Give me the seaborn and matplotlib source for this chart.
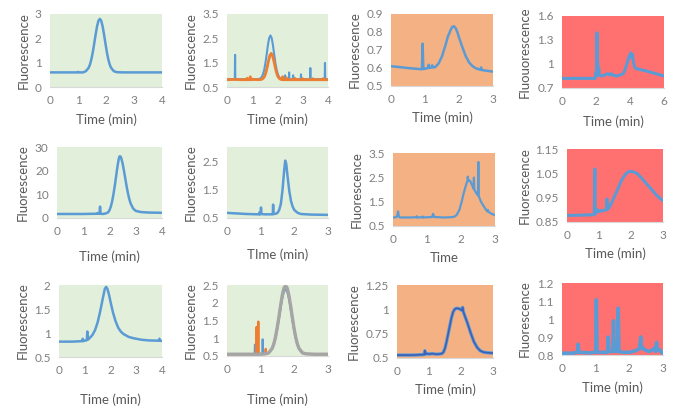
import matplotlib
matplotlib.use("Agg")
import matplotlib.pyplot as plt
import seaborn as sns
from matplotlib.ticker import FuncFormatter

sns.set_theme(style="white")
plt.rcParams['font.family'] = ['Lato', 'DejaVu Sans']

# ---------------- data ----------------
# Panel 1
p1_t = [0, 0.5, 0.97, 1.0, 1.03, 1.18, 1.28, 1.38, 1.43, 1.48, 1.53, 1.58, 1.63, 1.68, 1.73, 1.78,
        1.83, 1.88, 1.93, 1.98, 2.03, 2.08, 2.13, 2.18, 2.28, 2.38, 2.6, 3.0, 3.5, 4.0]
p1_y = [0.6, 0.6, 0.6, 0.62, 0.6, 0.6, 0.65, 0.79, 0.93, 1.15, 1.44, 1.79, 2.16, 2.49, 2.72, 2.8,
        2.72, 2.49, 2.16, 1.79, 1.44, 1.15, 0.93, 0.79, 0.65, 0.61, 0.6, 0.6, 0.6, 0.6]

# Panel 2 (blue and orange)
p2b_t = [0, 0.2, 0.31, 0.32, 0.33, 0.6, 1.0, 1.22, 1.32, 1.37, 1.42, 1.47, 1.52, 1.57, 1.62, 1.67,
         1.72, 1.77, 1.82, 1.87, 1.92, 1.97, 2.02, 2.07, 2.12, 2.22, 2.29, 2.3, 2.31, 2.45, 2.46, 2.47,
         2.61, 2.62, 2.63, 2.92, 2.93, 2.94, 3.29, 3.3, 3.31, 3.6, 3.87, 3.88, 3.89, 4.0]
p2b_y = [0.82, 0.82, 0.82, 1.82, 0.82, 0.82, 0.82, 0.82, 0.85, 0.9, 1.01, 1.19, 1.47, 1.83, 2.22,
         2.51, 2.62, 2.51, 2.22, 1.83, 1.47, 1.19, 1.01, 0.9, 0.85, 0.82, 0.82, 0.98, 0.82, 0.82, 1.1,
         0.82, 0.82, 0.98, 0.82, 0.82, 1.02, 0.82, 0.82, 1.28, 0.82, 0.82, 0.82, 1.49, 0.82, 0.82]
p2o_t = [0, 0.3, 0.6, 0.79, 0.8, 0.81, 0.91, 0.92, 0.93, 1.1, 1.25, 1.35, 1.4, 1.45, 1.5, 1.55,
         1.6, 1.65, 1.7, 1.75, 1.8, 1.85, 1.9, 1.95, 2.0, 2.05, 2.1, 2.15, 2.19, 2.2, 2.21, 2.34, 2.35,
         2.36, 2.69, 2.7, 2.71, 2.99, 3.0, 3.01, 3.39, 3.4, 3.41, 3.79, 3.8, 3.81, 4.0]
p2o_y = [0.8, 0.81, 0.8, 0.8, 0.86, 0.8, 0.8, 0.92, 0.8, 0.81, 0.8, 0.81, 0.83, 0.876, 0.97, 1.13,
         1.355, 1.6, 1.8, 1.88, 1.8, 1.6, 1.355, 1.13, 0.97, 0.876, 0.83, 0.81, 0.8, 0.92, 0.8, 0.8,
         0.88, 0.8, 0.8, 0.85, 0.8, 0.8, 0.84, 0.8, 0.8, 0.84, 0.8, 0.8, 0.84, 0.8, 0.8]

# Panel 3
p3_t = [0, 0.3, 0.6, 0.91, 0.93, 0.95, 1.0, 1.09, 1.11, 1.13, 1.19, 1.21, 1.23, 1.3, 1.4, 1.5,
        1.6, 1.68, 1.7, 1.75, 1.8, 1.85, 1.9, 1.95, 2.0, 2.1, 2.2, 2.3, 2.4, 2.5, 2.6, 2.64, 2.65,
        2.66, 2.8, 3.0]
p3_y = [0.61, 0.604, 0.598, 0.593, 0.735, 0.594, 0.596, 0.6, 0.618, 0.6, 0.603, 0.615, 0.603, 0.605,
        0.625, 0.665, 0.725, 0.78, 0.785, 0.81, 0.828, 0.832, 0.822, 0.8, 0.77, 0.715, 0.665, 0.63,
        0.61, 0.598, 0.592, 0.59, 0.603, 0.589, 0.585, 0.58]

# Panel 4
p4_t = [0, 0.5, 1.0, 1.5, 1.95, 2.0, 2.03, 2.06, 2.08, 2.1, 2.13, 2.16, 2.2, 2.3, 2.5, 2.6, 2.7,
        2.8, 2.9, 3.0, 3.2, 3.4, 3.6, 3.7, 3.8, 3.9, 3.95, 4.0, 4.05, 4.1, 4.15, 4.2, 4.3, 4.5, 5.0,
        5.5, 6.0]
p4_y = [0.82, 0.82, 0.82, 0.82, 0.82, 0.9, 0.85, 1.39, 0.9, 1.02, 0.88, 0.95, 0.86, 0.85, 0.86,
        0.87, 0.88, 0.86, 0.88, 0.86, 0.85, 0.86, 0.88, 0.92, 0.99, 1.06, 1.1, 1.08, 1.14, 1.1, 1.12,
        1.02, 0.95, 0.935, 0.91, 0.88, 0.85]

# Panel 5
p5_t = [0, 0.5, 1.0, 1.5, 1.53, 1.55, 1.57, 1.62, 1.64, 1.66, 1.75, 1.85, 1.95, 2.0, 2.05, 2.1,
        2.15, 2.2, 2.25, 2.3, 2.35, 2.38, 2.42, 2.45, 2.5, 2.55, 2.6, 2.65, 2.7, 2.75, 2.8, 2.9, 3.0,
        3.2, 3.5, 4.0]
p5_y = [1.7, 1.7, 1.7, 1.8, 1.8, 2.1, 1.8, 1.8, 4.8, 1.8, 1.7, 1.9, 2.4, 3.3, 4.8, 7.0, 10.0, 13.5,
        17.5, 21.5, 24.8, 26.0, 26.0, 25.2, 23.0, 20.0, 16.8, 13.5, 10.6, 8.2, 6.3, 4.0, 3.0, 2.5,
        2.3, 2.2]

# Panel 6
p6_t = [0, 0.3, 0.6, 0.9, 0.96, 0.97, 0.98, 1.0, 1.01, 1.02, 1.1, 1.3, 1.36, 1.37, 1.38, 1.45,
        1.5, 1.55, 1.6, 1.65, 1.7, 1.73, 1.76, 1.8, 1.85, 1.9, 1.95, 2.0, 2.1, 2.2, 2.5, 3.0]
p6_y = [0.68, 0.66, 0.64, 0.63, 0.63, 0.7, 0.63, 0.64, 0.87, 0.64, 0.63, 0.63, 0.63, 0.97, 0.64,
        0.65, 0.68, 0.78, 1.0, 1.5, 2.2, 2.52, 2.4, 1.95, 1.45, 1.1, 0.9, 0.78, 0.68, 0.64, 0.62, 0.61]

# Panel 7
p7_t = [0, 0.1, 0.13, 0.15, 0.17, 0.2, 0.5, 0.69, 0.7, 0.71, 0.86, 0.87, 0.88, 1.15, 1.18, 1.21,
        1.5, 1.7, 1.8, 1.87, 1.95, 2.02, 2.07, 2.12, 2.17, 2.19, 2.2, 2.21, 2.22, 2.27, 2.32, 2.37,
        2.38, 2.39, 2.45, 2.5, 2.51, 2.52, 2.58, 2.66, 2.72, 2.77, 2.79, 2.81, 2.9, 3.0]
p7_y = [0.85, 0.86, 0.95, 1.1, 0.9, 0.85, 0.85, 0.86, 0.9, 0.85, 0.86, 0.89, 0.85, 0.87, 1.0, 0.87,
        0.85, 0.86, 0.88, 0.95, 1.15, 1.5, 1.8, 2.05, 2.28, 2.34, 2.53, 2.37, 2.39, 2.35, 2.2, 2.03,
        2.49, 2.0, 1.85, 1.76, 3.13, 1.74, 1.52, 1.33, 1.2, 1.1, 1.16, 1.08, 1.0, 0.95]

# Panel 8
p8_t = [0, 0.4, 0.85, 0.86, 0.87, 0.88, 0.9, 0.95, 1.0, 1.05, 1.1, 1.2, 1.24, 1.25, 1.26, 1.3, 1.4,
        1.5, 1.6, 1.7, 1.8, 1.9, 1.97, 2.05, 2.1, 2.2, 2.3, 2.4, 2.5, 2.6, 2.7, 2.8, 2.9, 3.0]
p8_y = [0.877, 0.878, 0.88, 0.95, 1.068, 0.89, 0.885, 0.9, 0.893, 0.897, 0.895, 0.9, 0.902, 0.945,
        0.903, 0.905, 0.93, 0.96, 0.99, 1.02, 1.042, 1.055, 1.058, 1.057, 1.055, 1.048, 1.035, 1.02,
        1.005, 0.99, 0.975, 0.96, 0.948, 0.937]

# Panel 9
p9_t = [0, 0.5, 0.9, 0.92, 0.94, 1.0, 1.08, 1.1, 1.12, 1.2, 1.3, 1.4, 1.5, 1.6, 1.7, 1.78, 1.83,
        1.88, 1.95, 2.0, 2.1, 2.2, 2.3, 2.4, 2.5, 2.7, 2.9, 3.2, 3.5, 3.88, 3.9, 3.92, 4.0]
p9_y = [0.82, 0.82, 0.83, 0.88, 0.83, 0.84, 0.85, 1.03, 0.86, 0.9, 0.96, 1.06, 1.22, 1.45, 1.72,
        1.92, 1.96, 1.92, 1.78, 1.65, 1.42, 1.24, 1.11, 1.03, 0.98, 0.92, 0.89, 0.86, 0.845, 0.84,
        0.88, 0.84, 0.835]

# Panel 10 (blue, orange, gray)
p10b_t = [0, 0.5, 0.82, 0.83, 0.84, 1.0, 1.05, 1.06, 1.07, 1.14, 1.24, 1.34, 1.39, 1.44, 1.49,
          1.54, 1.59, 1.64, 1.69, 1.74, 1.79, 1.84, 1.89, 1.94, 1.99, 2.04, 2.09, 2.14, 2.24, 2.34,
          2.6, 3.0]
p10b_y = [0.55, 0.55, 0.55, 0.82, 0.55, 0.56, 0.56, 0.97, 0.56, 0.56, 0.59, 0.71, 0.83, 1.01,
          1.25, 1.54, 1.84, 2.12, 2.31, 2.38, 2.31, 2.12, 1.84, 1.54, 1.25, 1.01, 0.83, 0.71, 0.59,
          0.56, 0.55, 0.55]
p10o_t = [0, 0.5, 0.87, 0.88, 0.89, 0.92, 0.93, 0.94, 1.14, 1.15, 1.16, 1.24, 1.34, 1.39, 1.44,
          1.49, 1.54, 1.59, 1.64, 1.69, 1.74, 1.79, 1.84, 1.89, 1.94, 1.99, 2.04, 2.09, 2.14, 2.24,
          2.34, 2.6, 3.0]
p10o_y = [0.55, 0.55, 0.55, 1.32, 0.55, 0.55, 1.47, 0.55, 0.56, 0.7, 0.56, 0.59, 0.71, 0.84, 1.03,
          1.28, 1.58, 1.89, 2.18, 2.39, 2.45, 2.39, 2.18, 1.89, 1.58, 1.28, 1.03, 0.84, 0.71, 0.59,
          0.56, 0.55, 0.55]
p10g_t = [0, 0.5, 1.0, 1.14, 1.24, 1.34, 1.39, 1.44, 1.49, 1.54, 1.59, 1.64, 1.69, 1.74, 1.79,
          1.84, 1.89, 1.94, 1.99, 2.04, 2.09, 2.14, 2.24, 2.34, 2.6, 3.0]
p10g_y = [0.55, 0.55, 0.55, 0.56, 0.59, 0.71, 0.84, 1.03, 1.29, 1.59, 1.91, 2.2, 2.41, 2.48, 2.41,
          2.2, 1.91, 1.59, 1.29, 1.03, 0.84, 0.71, 0.59, 0.56, 0.55, 0.55]

# Panel 11
p11_t = [0, 0.5, 0.85, 0.87, 0.89, 0.95, 1.0, 1.1, 1.2, 1.3, 1.4, 1.45, 1.5, 1.55, 1.6, 1.65, 1.7,
         1.75, 1.8, 1.85, 1.9, 1.95, 2.0, 2.03, 2.05, 2.07, 2.1, 2.2, 2.3, 2.4, 2.5, 2.6, 2.7, 2.8,
         3.0]
p11_y = [0.53, 0.53, 0.535, 0.575, 0.54, 0.545, 0.54, 0.545, 0.54, 0.54, 0.545, 0.56, 0.6, 0.67,
         0.75, 0.83, 0.91, 0.97, 1.0, 1.01, 1.01, 1.005, 0.995, 0.99, 1.02, 0.98, 0.95, 0.86, 0.76,
         0.67, 0.61, 0.575, 0.56, 0.555, 0.55]

# Panel 12
p12_t = [0, 0.3, 0.46, 0.48, 0.5, 0.8, 1.0, 1.02, 1.04, 1.1, 1.35, 1.37, 1.39, 1.51, 1.53, 1.55,
         1.65, 1.67, 1.69, 1.8, 2.0, 2.1, 2.2, 2.25, 2.3, 2.34, 2.36, 2.4, 2.45, 2.5, 2.6, 2.7, 2.75,
         2.78, 2.81, 2.83, 2.9, 2.95, 3.0]
p12_y = [0.81, 0.81, 0.815, 0.86, 0.815, 0.812, 0.815, 1.107, 0.82, 0.815, 0.815, 0.9, 0.82, 0.82,
         0.99, 0.82, 0.82, 1.06, 0.82, 0.815, 0.815, 0.82, 0.825, 0.83, 0.835, 0.9, 0.835, 0.84,
         0.83, 0.825, 0.82, 0.83, 0.84, 0.82, 0.87, 0.825, 0.83, 0.815, 0.81]

# ticks and labels
xticks = [[0, 1, 2, 3, 4], [0, 1, 2, 3, 4], [0, 1, 2, 3], [0, 2, 4, 6],
          [0, 1, 2, 3, 4], [0, 1, 2, 3], [0, 1, 2, 3], [0, 1, 2, 3],
          [0, 1, 2, 3, 4], [0, 1, 2, 3], [0, 1, 2, 3], [0, 1, 2, 3]]
yticks = [[0, 1, 2, 3], [0.5, 1.5, 2.5, 3.5], [0.5, 0.6, 0.7, 0.8, 0.9], [0.7, 1, 1.3, 1.6],
          [0, 10, 20, 30], [0.5, 1.5, 2.5], [0.5, 1.5, 2.5, 3.5], [0.85, 0.95, 1.05, 1.15],
          [0.5, 1, 1.5, 2], [0.5, 1, 1.5, 2, 2.5], [0.5, 0.75, 1, 1.25], [0.8, 0.9, 1, 1.1, 1.2]]
ylims = [(0, 3), (0.5, 3.5), (0.5, 0.9), (0.7, 1.6), (0, 30), (0.5, 3), (0.5, 3.5), (0.85, 1.15),
         (0.5, 2), (0.5, 2.5), (0.5, 1.25), (0.8, 1.2)]
xlabels = ["Time (min)", "Time (min)", "Time (min)", "Time (min)",
           "Time (min)", "TIme (min)", "Time", "Time (min)",
           "Time (min)", "Time (min)", "Time (min)", "Time (min)"]
ylabels = ["Fluorescence"] * 3 + ["Fluouorescence"] + ["Fluorescence"] * 8

GREEN, ORANGE, RED = "#e2efda", "#f4b183", "#ff7171"
bgs = [GREEN, GREEN, ORANGE, RED] * 3
BLUE, ORG, GRAY = "#5b9bd5", "#ed7d31", "#a5a5a5"

# layout in pixels: left, right, top, bottom
rects = [(50, 162, 14, 87), (227, 328, 14, 87), (391, 493, 14, 86), (562, 664, 16, 88),
         (57, 162, 147, 218), (227, 328, 147, 218), (393, 495, 153, 226), (567, 663, 149, 222),
         (59, 162, 285, 357), (227, 328, 285, 356), (397, 493, 285, 358), (562, 663, 283, 355)]
ylab_off = [26, 36, 36, 37, 34, 36, 36, 42, 36, 36, 43, 37]
xlab_off = [33, 33, 32, 34, 39, 37, 32, 32, 43, 44, 32, 33]

W, H = 680, 413
fig = plt.figure(figsize=(W / 100, H / 100), dpi=100)
fig.patch.set_facecolor("white")

series = [
    [(p1_t, p1_y, BLUE, 1.8)],
    [(p2b_t, p2b_y, BLUE, 1.5), (p2o_t, p2o_y, ORG, 2.0)],
    [(p3_t, p3_y, BLUE, 1.8)],
    [(p4_t, p4_y, BLUE, 2.2)],
    [(p5_t, p5_y, BLUE, 1.8)],
    [(p6_t, p6_y, BLUE, 1.8)],
    [(p7_t, p7_y, BLUE, 1.6)],
    [(p8_t, p8_y, BLUE, 2.2)],
    [(p9_t, p9_y, BLUE, 1.8)],
    [(p10b_t, p10b_y, BLUE, 1.5), (p10o_t, p10o_y, ORG, 1.6), (p10g_t, p10g_y, GRAY, 2.4)],
    [(p11_t, p11_y, BLUE, 2.4), (p11_t, p11_y, "#3e5fb5", 1.2)],
    [(p12_t, p12_y, BLUE, 2.6)],
]

fmt = FuncFormatter(lambda v, p: "%g" % v)
TXT = "#595959"
TICK = "#7f7f7f"
for i in range(12):
    l, r, t, b = rects[i]
    ax = fig.add_axes([l / W, (H - b) / H, (r - l) / W, (b - t) / H])
    ax.set_facecolor(bgs[i])
    for xs, ys, c, lw in series[i]:
        sns.lineplot(x=xs, y=ys, ax=ax, color=c, linewidth=lw, estimator=None, sort=False)
    ax.set_xlim(xticks[i][0], xticks[i][-1])
    ax.set_ylim(*ylims[i])
    ax.set_xticks(xticks[i])
    ax.set_yticks(yticks[i])
    ax.xaxis.set_major_formatter(fmt)
    ax.yaxis.set_major_formatter(fmt)
    ax.tick_params(axis="both", length=0, labelsize=8.5, labelcolor=TICK, pad=6)
    for s in ["top", "right", "left"]:
        ax.spines[s].set_visible(False)
    ax.spines["bottom"].set_color("#d9d9d9")
    ax.spines["bottom"].set_linewidth(0.8)
    ax.set_xlabel(xlabels[i], fontsize=9.5, color=TXT, va="center")
    ax.set_ylabel(ylabels[i], fontsize=9.5, color=TXT, va="center")
    ax.xaxis.set_label_coords(0.5, -xlab_off[i] / (b - t))
    ax.yaxis.set_label_coords(-ylab_off[i] / (r - l), 0.5)

fig.savefig("out.png", dpi=100, facecolor="white")
